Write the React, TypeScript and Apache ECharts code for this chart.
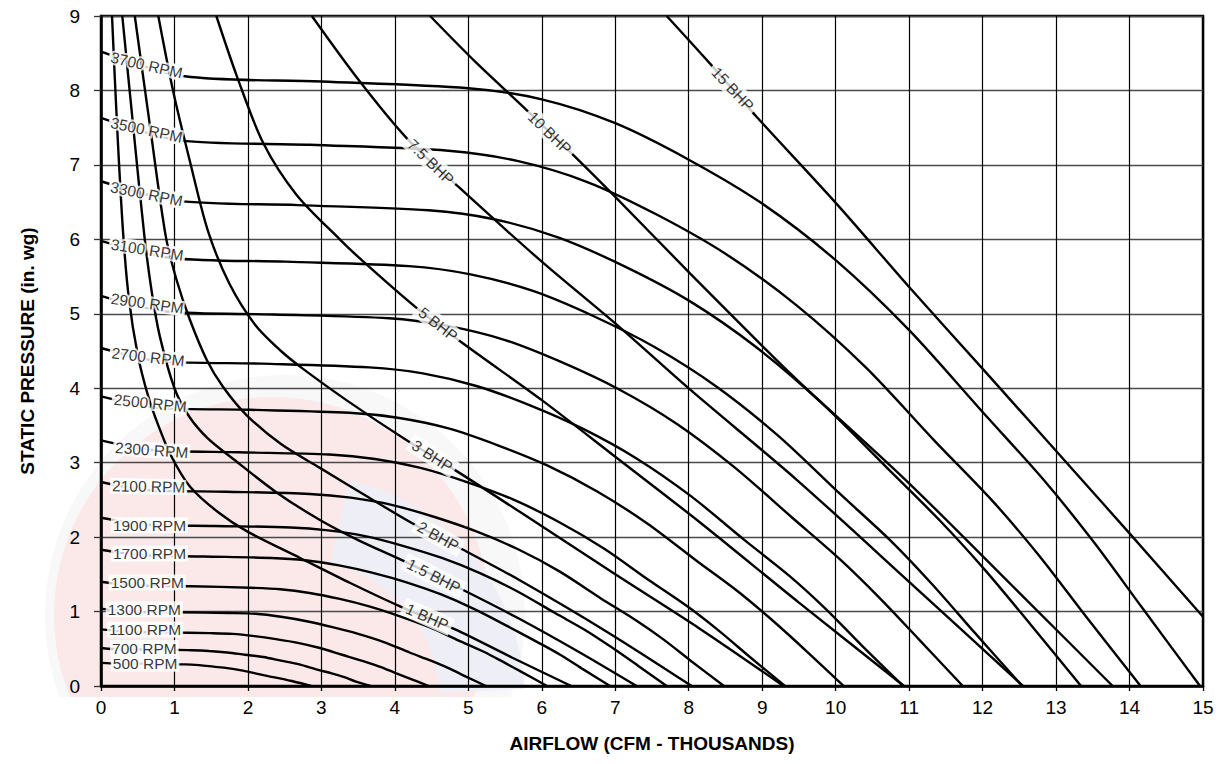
import React, { useEffect, useRef } from 'react';
import * as echarts from 'echarts';

// ---------- axis ticks ----------
const xTickValues = [0, 1, 2, 3, 4, 5, 6, 7, 8, 9, 10, 11, 12, 13, 14, 15];
const yTickValues = [0, 1, 2, 3, 4, 5, 6, 7, 8, 9];

// ---------- RPM curves (airflow thousands CFM, static pressure in. wg) ----------
const rpmNames = ['3700 RPM', '3500 RPM', '3300 RPM', '3100 RPM', '2900 RPM', '2700 RPM', '2500 RPM', '2300 RPM',
  '2100 RPM', '1900 RPM', '1700 RPM', '1500 RPM', '1300 RPM', '1100 RPM', '700 RPM', '500 RPM'];

const rpm3700 = [[0, 8.52], [1.14, 8.19], [3, 8.12], [5, 8.03], [6, 7.88], [7, 7.56], [8, 7.07], [9, 6.48], [10, 5.72], [11, 4.78], [12, 3.68], [12.83, 2.77], [13.5, 1.95], [14.18, 1.04], [14.96, 0]];
const rpm3500 = [[0, 7.63], [1.08, 7.33], [2.84, 7.27], [4.73, 7.19], [5.68, 7.05], [6.62, 6.77], [7.57, 6.33], [8.51, 5.80], [9.46, 5.12], [10.41, 4.28], [11.35, 3.29], [12.14, 2.48], [12.77, 1.75], [13.41, 0.93], [14.15, 0]];
const rpm3300 = [[0, 6.78], [1.02, 6.52], [2.68, 6.46], [4.46, 6.39], [5.35, 6.27], [6.24, 6.02], [7.14, 5.63], [8.03, 5.16], [8.92, 4.55], [9.81, 3.80], [10.70, 2.93], [11.44, 2.20], [12.04, 1.55], [12.65, 0.83], [13.34, 0]];
const rpm3100 = [[0, 5.98], [0.96, 5.75], [2.51, 5.70], [4.19, 5.64], [5.03, 5.53], [5.87, 5.31], [6.70, 4.97], [7.54, 4.55], [8.38, 4.02], [9.22, 3.36], [10.06, 2.58], [10.75, 1.95], [11.31, 1.37], [11.88, 0.73], [12.54, 0]];
const rpm2900 = [[0, 5.24], [0.89, 5.03], [2.35, 4.99], [3.92, 4.94], [4.70, 4.84], [5.49, 4.65], [6.27, 4.35], [7.06, 3.98], [7.84, 3.52], [8.62, 2.94], [9.41, 2.26], [10.06, 1.70], [10.58, 1.20], [11.12, 0.64], [11.73, 0]];
const rpm2700 = [[0, 4.54], [0.83, 4.36], [2.19, 4.33], [3.65, 4.28], [4.38, 4.20], [5.11, 4.03], [5.84, 3.77], [6.57, 3.45], [7.30, 3.05], [8.03, 2.55], [8.76, 1.96], [9.37, 1.48], [9.86, 1.04], [10.35, 0.55], [10.92, 0]];
const rpm2500 = [[0, 3.89], [0.77, 3.74], [2.03, 3.71], [3.38, 3.67], [4.06, 3.60], [4.73, 3.46], [5.41, 3.23], [6.08, 2.96], [6.76, 2.61], [7.44, 2.18], [8.11, 1.68], [8.67, 1.27], [9.13, 0.89], [9.59, 0.48], [10.11, 0]];
const rpm2300 = [[0, 3.30], [0.71, 3.17], [1.87, 3.14], [3.11, 3.11], [3.73, 3.05], [4.35, 2.93], [4.98, 2.74], [5.60, 2.51], [6.22, 2.21], [6.84, 1.85], [7.46, 1.42], [7.98, 1.07], [8.40, 0.75], [8.82, 0.40], [9.31, 0]];
const rpm2100 = [[0, 2.74], [0.65, 2.63], [1.70, 2.61], [2.84, 2.58], [3.40, 2.53], [3.97, 2.43], [4.54, 2.27], [5.10, 2.08], [5.67, 1.84], [6.24, 1.54], [6.80, 1.18], [7.27, 0.89], [7.65, 0.63], [8.04, 0.33], [8.48, 0]];
const rpm1900 = [[0, 2.26], [0.59, 2.17], [1.55, 2.15], [2.58, 2.13], [3.09, 2.09], [3.61, 2.01], [4.12, 1.88], [4.64, 1.72], [5.15, 1.52], [5.67, 1.27], [6.18, 0.98], [6.61, 0.74], [6.95, 0.52], [7.30, 0.28], [7.70, 0]];
const rpm1700 = [[0, 1.83], [0.53, 1.76], [1.39, 1.74], [2.32, 1.72], [2.78, 1.69], [3.24, 1.62], [3.70, 1.52], [4.17, 1.39], [4.63, 1.23], [5.09, 1.03], [5.56, 0.79], [5.94, 0.59], [6.25, 0.42], [6.57, 0.22], [6.93, 0]];
const rpm1500 = [[0, 1.40], [0.46, 1.35], [1.22, 1.34], [2.03, 1.32], [2.44, 1.30], [2.84, 1.25], [3.25, 1.17], [3.65, 1.07], [4.06, 0.94], [4.47, 0.79], [4.87, 0.61], [5.21, 0.46], [5.48, 0.32], [5.76, 0.17], [6.07, 0]];
const rpm1300 = [[0, 1.04], [0.40, 1.00], [1.05, 0.99], [1.75, 0.98], [2.10, 0.97], [2.45, 0.93], [2.80, 0.87], [3.15, 0.79], [3.50, 0.70], [3.85, 0.59], [4.20, 0.45], [4.49, 0.34], [4.73, 0.24], [4.96, 0.13], [5.24, 0]];
const rpm1100 = [[0, 0.76], [0.34, 0.73], [0.89, 0.72], [1.49, 0.71], [1.79, 0.70], [2.09, 0.67], [2.38, 0.63], [2.68, 0.58], [2.98, 0.51], [3.28, 0.42], [3.58, 0.33], [3.82, 0.25], [4.02, 0.17], [4.23, 0.09], [4.46, 0]];
const rpm700 = [[0, 0.51], [0.28, 0.49], [0.74, 0.49], [1.23, 0.48], [1.47, 0.47], [1.72, 0.45], [1.96, 0.42], [2.21, 0.39], [2.45, 0.34], [2.70, 0.29], [2.94, 0.22], [3.14, 0.17], [3.31, 0.12], [3.47, 0.06], [3.67, 0]];
const rpm500 = [[0, 0.31], [0.22, 0.30], [0.57, 0.30], [0.96, 0.29], [1.15, 0.29], [1.34, 0.28], [1.53, 0.26], [1.72, 0.24], [1.91, 0.21], [2.10, 0.17], [2.29, 0.13], [2.45, 0.10], [2.58, 0.07], [2.71, 0.04], [2.86, 0]];

const rpmCurves = [rpm3700, rpm3500, rpm3300, rpm3100, rpm2900, rpm2700, rpm2500, rpm2300,
  rpm2100, rpm1900, rpm1700, rpm1500, rpm1300, rpm1100, rpm700, rpm500];

// label anchor (data units) and tilt (degrees, clockwise) for each RPM label
const rpmLabelAt = [[0.62, 8.34], [0.62, 7.47], [0.62, 6.61], [0.63, 5.86], [0.63, 5.14], [0.64, 4.42], [0.67, 3.80], [0.69, 3.17],
  [0.65, 2.68], [0.66, 2.16], [0.66, 1.78], [0.63, 1.39], [0.59, 1.03], [0.60, 0.76], [0.59, 0.51], [0.60, 0.30]];
const rpmLabelTilt = [13, 12, 11.5, 9, 8, 6.5, 6, 4, 1, 0, 0, 0, 0, 0, 0, 0];

// ---------- BHP curves ----------
const bhpNames = ['1 BHP', '1.5 BHP', '2 BHP', '3 BHP', '5 BHP', '7.5 BHP', '10 BHP', '15 BHP'];

const bhp1 = [[0.15, 9], [0.22, 7.5], [0.30, 6.1], [0.38, 5.2], [0.5, 4.45], [0.64, 3.9], [0.78, 3.5], [0.95, 3.1], [1.21, 2.68], [1.6, 2.33], [2.0, 2.07], [2.71, 1.72], [3.4, 1.38], [4.07, 1.07], [4.82, 0.76], [5.6, 0.38], [6.40, 0]];
const bhp1p5 = [[0.29, 9], [0.44, 7.5], [0.59, 6.05], [0.69, 5.3], [0.8, 4.7], [1.0, 4.0], [1.2, 3.62], [1.45, 3.33], [1.8, 3.05], [2.39, 2.6], [2.98, 2.23], [3.5, 1.96], [4.14, 1.67], [4.93, 1.29], [5.7, 0.9], [6.5, 0.46], [7.29, 0]];
const bhp2 = [[0.46, 9], [0.67, 7.5], [0.88, 6.05], [1.03, 5.45], [1.21, 4.92], [1.44, 4.38], [1.66, 4.02], [1.98, 3.64], [2.45, 3.25], [2.98, 2.93], [3.6, 2.56], [4.23, 2.19], [4.93, 1.83], [5.7, 1.42], [6.9, 0.72], [8.04, 0]];
const bhp3 = [[0.78, 9], [0.98, 8.0], [1.21, 7.05], [1.46, 6.1], [1.75, 5.4], [2.1, 4.85], [2.45, 4.5], [2.75, 4.26], [3.34, 3.84], [4.16, 3.3], [4.82, 2.9], [5.7, 2.34], [7.0, 1.5], [8.15, 0.77], [9.29, 0]];
const bhp5 = [[1.57, 9], [1.85, 8.19], [2.21, 7.29], [2.66, 6.6], [3.25, 6.0], [3.55, 5.72], [4.27, 5.1], [4.93, 4.6], [6.0, 3.84], [7.0, 3.08], [8.15, 2.2], [9.5, 1.12], [10.93, 0]];
const bhp7p5 = [[2.87, 9], [3.5, 8.15], [4.16, 7.36], [4.86, 6.71], [6.0, 5.7], [7.0, 4.87], [8.02, 3.98], [9.47, 2.77], [11.0, 1.4], [12.55, 0]];
const bhp10 = [[4.48, 9], [5.1, 8.38], [5.79, 7.74], [6.43, 7.13], [7.0, 6.57], [8.02, 5.54], [9.01, 4.56], [9.51, 4.08], [10.95, 2.77], [12.4, 1.35], [13.77, 0]];
const bhp15 = [[7.7, 9], [8.29, 8.36], [8.92, 7.65], [10.01, 6.48], [11.0, 5.36], [12.02, 4.24], [13.35, 2.77], [14.0, 2.05], [15, 0.93]];

const bhpCurves = [bhp1, bhp1p5, bhp2, bhp3, bhp5, bhp7p5, bhp10, bhp15];

const bhpLabelAt = [[4.44, 0.93], [4.53, 1.48], [4.59, 2.01], [4.51, 3.09], [4.59, 4.86], [4.49, 7.04], [6.11, 7.43], [8.60, 8.02]];
const bhpLabelTilt = [24, 27, 29, 33, 38, 44, 44, 47];

const FONT = '"Liberation Sans", Arial, Helvetica, sans-serif';

export default function App() {
  const ref = useRef<HTMLDivElement>(null);

  useEffect(() => {
    if (!ref.current) return;
    const chart = echarts.init(ref.current, undefined, { renderer: 'svg' });

    const lineBase = {
      type: 'line' as const,
      symbol: 'none',
      smooth: 0.3,
      silent: true,
      clip: true,
      lineStyle: { color: '#000', width: 2.4 },
      emphasis: { disabled: true },
    };

    const labelBase = {
      show: true,
      position: [0, 0],
      align: 'center',
      verticalAlign: 'middle',
      formatter: '{b}',
      color: '#000',
      fontSize: 15.5,
      fontFamily: FONT,
      textShadowBlur: 0,
      textBorderWidth: 0,
      textBorderColor: 'transparent',
    };

    const rpmLabelData = rpmLabelAt.map((p, i) => ({ name: rpmNames[i], value: p, label: { rotate: -rpmLabelTilt[i] } }));

    const series: any[] = [];
    rpmCurves.forEach((c, i) => {
      series.push({ ...lineBase, name: rpmNames[i], z: 2, data: c });
    });
    // white boxes that interrupt RPM curves and grid lines under the RPM labels
    series.push({
      type: 'scatter', z: 3, symbolSize: 0, silent: true,
      data: rpmLabelData,
      label: { ...labelBase, color: '#fff', backgroundColor: '#fff', padding: [0, 2] },
      emphasis: { disabled: true },
    });
    bhpCurves.forEach((c, i) => {
      series.push({ ...lineBase, name: bhpNames[i], z: 4, data: c });
    });
    // white halo behind the RPM glyphs (BHP lines pass behind the text)
    series.push({
      type: 'scatter', z: 5, symbolSize: 0, silent: true,
      data: rpmLabelData,
      label: { ...labelBase, color: '#fff', textBorderColor: '#fff', textBorderWidth: 4, padding: [0, 2] },
      emphasis: { disabled: true },
    });
    // RPM label text
    series.push({
      type: 'scatter', z: 6, symbolSize: 0, silent: true,
      data: rpmLabelData,
      label: { ...labelBase, padding: [0, 2] },
      emphasis: { disabled: true },
    });
    series.push({
      type: 'scatter', z: 7, symbolSize: 0, silent: true,
      data: bhpLabelAt.map((p, i) => ({ name: bhpNames[i], value: p, label: { rotate: -bhpLabelTilt[i] } })),
      label: { ...labelBase, backgroundColor: '#fff', padding: [1, 4] },
      emphasis: { disabled: true },
    });

    chart.setOption({
      animation: false,
      backgroundColor: '#fff',
      graphic: [
        { type: 'circle', z: -30, silent: true, shape: { cx: 285, cy: 615, r: 240 }, style: { fill: '#f8f8f8' } },
        { type: 'circle', z: -29, silent: true, shape: { cx: 272, cy: 615, r: 218 }, style: { fill: '#fbe9e9' } },
        { type: 'sector', z: -28, silent: true, shape: { cx: 300, cy: 700, r0: 140, r: 225, startAngle: -1.35, endAngle: -0.05 }, style: { fill: '#eeeef6' } },
        { type: 'rect', z: -27, silent: true, shape: { x: 0, y: 697, width: 1222, height: 67 }, style: { fill: '#fff' } },
      ],
      grid: {
        left: 101, top: 16, width: 1102, height: 670,
        show: true, borderColor: '#000', borderWidth: 2.5, backgroundColor: 'transparent',
      },
      xAxis: {
        type: 'value', min: 0, max: 15, interval: 1,
        name: 'AIRFLOW (CFM - THOUSANDS)', nameLocation: 'middle', nameGap: 48,
        nameTextStyle: { fontSize: 19, fontWeight: 'bold', color: '#000', fontFamily: FONT },
        axisLine: { show: true, lineStyle: { color: '#000', width: 2.5 } },
        axisTick: { show: true, length: 5, lineStyle: { color: '#000', width: 1.3 } },
        axisLabel: {
          color: '#000', fontSize: 19, fontFamily: FONT, margin: 12,
          formatter: (v: number) => (xTickValues.includes(v) ? String(v) : ''),
        },
        splitLine: { show: true, lineStyle: { color: '#000', width: 1.2 } },
      },
      yAxis: {
        type: 'value', min: 0, max: 9, interval: 1,
        name: 'STATIC PRESSURE (in. wg)', nameLocation: 'middle', nameGap: 64,
        nameTextStyle: { fontSize: 19, fontWeight: 'bold', color: '#000', fontFamily: FONT },
        axisLine: { show: true, lineStyle: { color: '#000', width: 2.5 } },
        axisTick: { show: true, length: 7, lineStyle: { color: '#333', width: 1.3 } },
        axisLabel: {
          color: '#000', fontSize: 19, fontFamily: FONT, margin: 21,
          formatter: (v: number) => (yTickValues.includes(v) ? String(v) : ''),
        },
        splitLine: { show: true, lineStyle: { color: '#4a4a4a', width: 1.4 } },
      },
      series,
    });

    return () => chart.dispose();
  }, []);

  return <div ref={ref} style={{ position: 'absolute', left: 0, top: 0, width: 1222, height: 764 }} />;
}
